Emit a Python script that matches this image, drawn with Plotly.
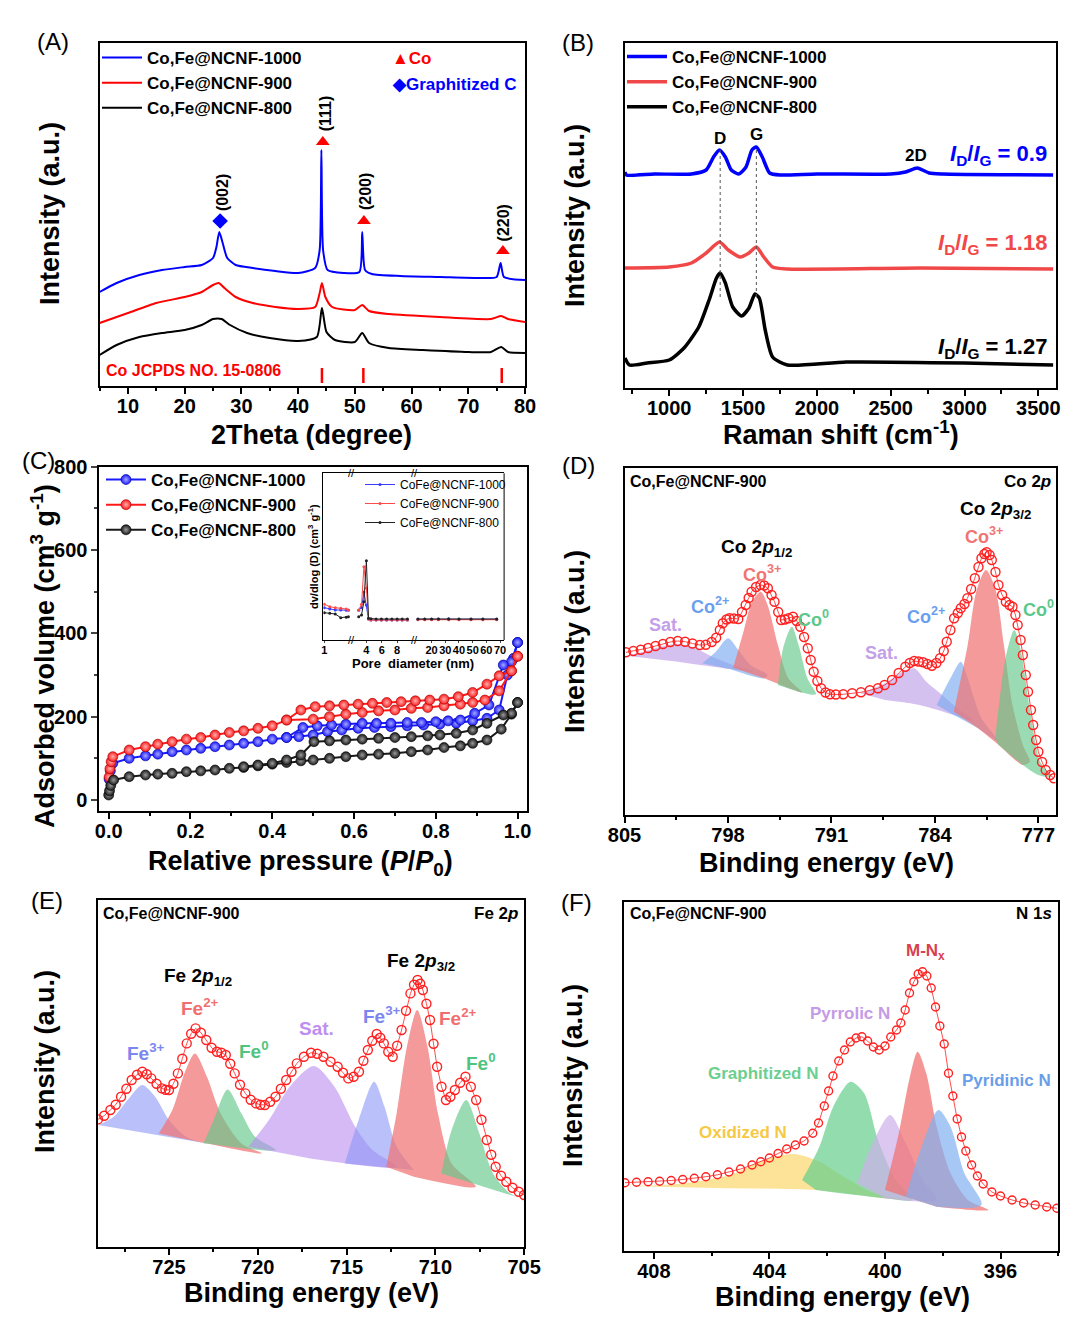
import plotly.graph_objects as go

W, H = 1080, 1321
FONT = "Liberation Sans"

# ---------------- (A) XRD ----------------
xrd_tt_1000 = [5, 8, 12, 16, 20, 23, 25, 25.6, 26.1, 26.7, 27.5, 29, 32, 36, 40, 43, 43.8, 44.1, 44.4, 45.2,
               48, 50.8, 51.3, 51.8, 53, 58, 65, 72, 75, 75.7, 76.3, 80]
xrd_i_1000 = [98, 107, 115, 120, 123, 125, 132, 143, 158, 147, 132, 125, 122, 119, 117, 122, 140, 240, 140, 120,
              117, 118, 158, 120, 116, 114, 113, 112, 113, 127, 113, 110]
xrd_tt_900 = [5, 10, 15, 20, 23, 25, 26, 27, 29, 32, 36, 40, 43, 43.8, 44.2, 44.8, 46, 50, 51.3, 52.5,
              56, 65, 74, 75.8, 77, 80]
xrd_i_900 = [67, 77, 87, 93, 98, 105, 107, 102, 93, 87, 83, 81, 83, 97, 107, 93, 83, 80, 85, 79,
             76, 73, 71, 74, 71, 68]
xrd_tt_800 = [5, 8, 12, 16, 20, 23, 25, 26.5, 28, 31, 35, 40, 43.3, 44.2, 45, 46.5, 50, 51.3, 52.5, 56,
              62, 70, 74, 75.8, 77, 80]
xrd_i_800 = [35, 45, 53, 57, 60, 65, 71, 71, 65, 57, 52, 49, 53, 82, 58, 50, 48, 57, 47, 42,
             40, 38, 38, 43, 38, 37]
co_ref_tt = [44.2, 51.5, 75.9]
co_peak_tt = [44.35, 51.6, 76.1]
co_peak_i = [248, 169, 139]
gc_peak_tt = [26.25]
gc_peak_i = [169]
hkl_labels = ["(002)", "(111)", "(200)", "(220)"]
hkl_tt = [26.6, 44.8, 51.8, 76.2]
hkl_i = [197, 277, 198, 167]

# ---------------- (B) Raman ----------------
raman_x_1000 = [700, 710, 900, 1150, 1250, 1300, 1340, 1380, 1420, 1470, 1520, 1560, 1590, 1630, 1680,
                1750, 2000, 2500, 2600, 2680, 2760, 2850, 3600]
raman_i_1000 = [218, 215, 216, 216, 220, 233, 240, 233, 220, 216, 223, 240, 243, 233, 217,
                215, 216, 216, 218, 222, 217, 216, 215]
raman_x_900 = [700, 1000, 1150, 1250, 1340, 1400, 1480, 1540, 1590, 1640, 1700, 1800, 2700, 3600]
raman_i_900 = [122, 123, 127, 137, 148, 140, 133, 137, 143, 133, 123, 121, 122, 121]
raman_x_800 = [700, 730, 850, 1000, 1100, 1200, 1270, 1320, 1345, 1380, 1430, 1490, 1540, 1580, 1610,
               1650, 1700, 1800, 2200, 3000, 3600]
raman_i_800 = [32, 25, 27, 30, 42, 63, 90, 112, 117, 107, 83, 74, 82, 96, 92,
               60, 33, 25, 28, 27, 25]
raman_band_pos = [1345, 1590]
raman_band_names = ["D", "G"]
raman_band_label_i = [252, 256]
ratio_values = ["0.9", "1.18", "1.27"]
ratio_i = [235, 146, 42]

# ---------------- (C) N2 isotherms ----------------
ads_p_1000 = [0.001, 0.004, 0.01, 0.05, 0.09, 0.12, 0.155, 0.19, 0.225, 0.26, 0.295, 0.33, 0.365, 0.40, 0.435,
              0.465, 0.50, 0.535, 0.57, 0.61, 0.65, 0.69, 0.73, 0.77, 0.81, 0.85, 0.89, 0.925, 0.955, 0.975,
              0.99, 1.0]
ads_v_1000 = [50, 70, 88, 100, 106, 110, 116, 120, 124, 128, 132, 136, 140, 146, 150,
              152, 156, 164, 168, 172, 174, 176, 178, 180, 182, 184, 190, 196, 216, 300,
              340, 378]
des_p_1000 = [1.0, 0.985, 0.965, 0.93, 0.895, 0.86, 0.83, 0.80, 0.765, 0.73, 0.69, 0.655, 0.62, 0.58, 0.545,
              0.51, 0.475, 0.435]
des_v_1000 = [378, 332, 324, 228, 208, 192, 190, 188, 186, 186, 184, 184, 184, 182, 180, 178, 174, 150]
ads_p_900 = [0.001, 0.003, 0.006, 0.01, 0.05, 0.09, 0.12, 0.155, 0.19, 0.225, 0.26, 0.295, 0.33, 0.365, 0.40,
             0.435, 0.50, 0.54, 0.58, 0.62, 0.66, 0.70, 0.74, 0.78, 0.82, 0.86, 0.89, 0.92, 0.955, 0.985, 1.0]
ads_v_900 = [55, 75, 92, 104, 120, 128, 134, 140, 146, 150, 156, 162, 166, 172, 178,
             192, 194, 200, 206, 210, 214, 216, 220, 222, 226, 230, 234, 240, 262, 310, 345]
des_p_900 = [1.0, 0.985, 0.955, 0.925, 0.89, 0.855, 0.82, 0.785, 0.75, 0.715, 0.68, 0.645, 0.61, 0.575, 0.54,
             0.505, 0.47, 0.435]
des_v_900 = [345, 310, 298, 278, 258, 248, 242, 240, 238, 236, 234, 232, 230, 228, 226, 224, 216, 192]
ads_p_800 = [0.0, 0.002, 0.005, 0.012, 0.05, 0.09, 0.12, 0.155, 0.19, 0.225, 0.26, 0.295, 0.33, 0.365, 0.40,
             0.435, 0.47, 0.50, 0.54, 0.58, 0.62, 0.66, 0.70, 0.74, 0.78, 0.82, 0.86, 0.89, 0.925, 0.96,
             0.985, 1.0]
ads_v_800 = [12, 22, 35, 48, 56, 60, 62, 64, 68, 70, 72, 76, 78, 82, 86,
             90, 94, 96, 100, 104, 108, 110, 112, 116, 120, 126, 130, 136, 144, 170,
             206, 234]
des_p_800 = [1.0, 0.985, 0.965, 0.925, 0.89, 0.85, 0.81, 0.78, 0.74, 0.70, 0.66, 0.62, 0.58, 0.54, 0.502,
             0.47, 0.435, 0.40, 0.365, 0.33]
des_v_800 = [234, 208, 204, 184, 168, 160, 156, 154, 152, 150, 148, 146, 144, 142, 140, 108, 96, 88, 84, 80]

# inset: pore size distribution (broken axis)
psd_d = [1.0, 1.3, 1.6, 1.9, 2.2,
         2.32, 3.0, 3.37, 3.68, 4.0, 4.28, 4.59, 5.27, 5.95, 6.63, 7.32, 8.0, 8.66, 9.34,
         10, 15, 20, 25, 32.5, 40, 48.8, 57.5, 67.6]
psd_v_1000 = [32.3, 31, 30, 30, 29.7,
              29.7, 29.7, 32.3, 48, 35, 21, 20, 20, 20, 20, 20, 20, 20, 20,
              20.7, 20.7, 20.7, 21, 21.3, 20.7, 20.7, 20.7, 20.7]
psd_v_900 = [35.7, 33.3, 32.3, 31.7, 31,
             30, 30, 35.7, 73.3, 51.7, 21, 20, 20, 20, 20, 20, 20, 20, 20,
             20.3, 20.3, 20.3, 20.3, 20.3, 20.3, 20.3, 20.3, 20.3]
psd_v_800 = [27.3, 26.7, 26, 22.3, 22.7,
             23.3, 23.3, 25, 38.3, 79.3, 21.7, 21.3, 21, 21, 21, 21, 21, 21, 21,
             21, 21, 21, 21, 21, 21, 21, 21, 21]

# ---------------- (D) Co 2p ----------------
co_env_be = [804.9, 804.4, 803.9, 803.4, 802.9, 802.4, 801.9, 801.4, 800.9, 800.4,
             799.9, 799.5, 799.1, 798.8, 798.55, 798.35, 798.1, 797.9, 797.6, 797.3,
             797.05, 796.8, 796.6, 796.4, 796.1, 795.8, 795.55, 795.3, 795.05, 794.85,
             794.6, 794.4, 794.15, 793.9, 793.6, 793.35, 793.1, 792.85, 792.6, 792.4,
             792.2, 791.95, 791.7, 791.4, 791.1, 790.7, 790.2, 789.6, 789.0, 788.4,
             787.85, 787.4, 786.9, 786.45, 786.0, 785.7, 785.4, 785.1, 784.8, 784.5,
             784.2, 783.9, 783.65, 783.4, 783.2, 782.95, 782.7, 782.45, 782.25, 782.0,
             781.8, 781.55, 781.3, 781.05, 780.85, 780.65, 780.5, 780.3, 780.15, 779.9,
             779.7, 779.45, 779.2, 778.95, 778.75, 778.55, 778.4, 778.2, 778.05, 777.85,
             777.7, 777.5, 777.35, 777.15, 777.0, 776.75, 776.5, 776.2, 775.95]
co_env_int = [162.7, 164, 165.3, 167, 169, 171, 173, 174, 173.3, 171.5,
              170, 170.3, 173, 177.3, 185, 191.7, 195.5, 196.7, 196.5, 196,
              203, 210, 217, 223.3, 228, 230, 229.5, 226.7, 220, 213.3,
              203, 195, 195.5, 196.7, 198.3, 194, 188.3, 178, 166.7, 155,
              143.3, 134, 126.7, 122.5, 120.7, 120.5, 120.7, 121.7, 122.7, 124.7,
              126.7, 130, 135, 142, 148.3, 152, 154, 153.5, 152.7, 151,
              149.3, 152, 156.7, 164, 173.3, 185, 196.7, 202, 206.7, 211,
              216.7, 226, 236.7, 248, 256.7, 261, 262.7, 260, 255, 243,
              230, 220, 213.3, 210, 208.3, 200, 190, 175, 160, 140,
              123.3, 105, 90, 75, 63.3, 53, 45, 40, 36.7]
co_bg_be = [805.0, 801.38, 797.88, 795.55, 793.22, 790.88, 787.38, 785.05, 782.72, 781.08, 779.68, 778.05, 777.0, 775.95]
co_bg_int = [159.3, 153.3, 146, 136.7, 123.3, 118.3, 115, 110, 100, 86.7, 70, 50, 40, 36.7]
co_sat1_be = [804.88, 803.72, 802.55, 801.38, 800.22, 799.05, 797.65, 796.25]
co_sat1_int = [159.3, 163.3, 168.3, 171, 166.7, 158.3, 150, 143.3]
co2_a_be = [799.75, 798.82, 798.0, 797.3, 796.48, 795.32]
co2_a_int = [151.7, 163.3, 176.7, 165, 150, 140]
co3_a_be = [797.65, 796.95, 796.37, 795.78, 795.32, 794.62, 793.92, 792.98]
co3_a_int = [147.3, 183.3, 213.3, 223.3, 210, 170, 136.7, 122.7]
co0_a_be = [794.62, 794.27, 793.68, 793.22, 792.63, 792.05]
co0_a_int = [130, 166.7, 188.3, 170, 136.7, 120.7]
co_sat2_be = [789.02, 787.38, 786.22, 785.4, 784.58, 783.65, 782.48, 781.32]
co_sat2_int = [121.7, 131.7, 143.3, 146.7, 133.3, 121.7, 106.7, 93.3]
co2_b_be = [783.88, 782.95, 782.25, 781.78, 780.85, 779.68]
co2_b_int = [110, 136.7, 153.3, 136.7, 96.7, 73.3]
co3_b_be = [782.72, 781.78, 781.2, 780.55, 779.92, 779.33, 778.75, 778.05, 777.58]
co3_b_int = [103.3, 170, 223.3, 245, 226.7, 170, 110, 70, 53.3]
co0_b_be = [779.92, 779.22, 778.63, 778.17, 777.58, 776.88, 776.18]
co0_b_int = [76.7, 156.7, 185, 163.3, 106.7, 53.3, 38.3]

# ---------------- (E) Fe 2p ----------------
fe_env_be = [729.0, 728.65, 728.3, 728.0, 727.7, 727.4, 727.1, 726.8, 726.5, 726.25,
             726.0, 725.7, 725.4, 725.2, 725.0, 724.75, 724.5, 724.25, 724.0, 723.75,
             723.5, 723.2, 722.9, 722.6, 722.3, 722.05, 721.8, 721.55, 721.3, 721.0,
             720.7, 720.4, 720.1, 719.85, 719.6, 719.3, 719.0, 718.7, 718.4, 718.1,
             717.8, 717.4, 717.0, 716.65, 716.3, 715.9, 715.5, 715.2, 714.9, 714.6,
             714.3, 714.05, 713.8, 713.55, 713.3, 713.1, 712.9, 712.65, 712.4, 712.15,
             711.9, 711.65, 711.4, 711.2, 711.0, 710.85, 710.7, 710.5, 710.3, 710.1,
             709.9, 709.65, 709.4, 709.15, 708.9, 708.6, 708.3, 708.0, 707.7, 707.4,
             707.1, 706.85, 706.6, 706.3, 706.0, 705.65, 705.3, 705.0]
fe_env_int = [127.3, 131, 136.7, 142, 150, 158, 166.7, 172, 175, 172.5,
              168.3, 163, 158.3, 157, 156.7, 163, 173.3, 188, 203.3, 213,
              218.3, 214, 206.7, 199, 195, 194, 191.7, 183, 173.3, 162,
              153.3, 147, 143.3, 142, 141.7, 145, 150, 158, 166.7, 175,
              183.3, 190, 194, 193, 190, 185, 180, 174, 168.3, 170,
              175, 186, 196.7, 206, 212.7, 209, 203.3, 195, 190, 201,
              216.7, 236, 253.3, 262, 266.7, 263, 256.7, 243, 226.7, 203,
              180, 160, 146.7, 150, 156.7, 164, 170, 160, 146.7, 127,
              106.7, 92, 80, 71, 65, 59, 55, 51.7]
fe_bg_be = [729.02, 722.86, 717.04, 711.21, 705.0]
fe_bg_int = [118.3, 103.3, 88.3, 70, 46.7]
fe3_a_be = [728.98, 728.11, 727.33, 726.51, 725.78, 725.0, 724.03, 722.86]
fe3_a_int = [121.7, 130, 146.7, 161.7, 150, 126.7, 110, 103.3]
fe2_a_be = [725.58, 724.81, 724.13, 723.54, 722.86, 722.09, 720.92, 719.76]
fe2_a_int = [113.3, 136.7, 173.3, 193.3, 170, 133.3, 103.3, 93.3]
fe0_a_be = [723.06, 722.48, 721.7, 720.92, 720.15, 718.98]
fe0_a_int = [103.3, 126.7, 157.3, 133.3, 110, 96.7]
fe_sat_be = [720.53, 719.37, 718.2, 716.84, 715.68, 714.51, 713.54, 712.18]
fe_sat_int = [100, 126.7, 160, 180.7, 160, 120, 96.7, 80]
fe3_b_be = [715.1, 714.32, 713.45, 712.86, 712.18, 711.21]
fe3_b_int = [83.3, 126.7, 165, 140, 100, 76.7]
fe2_b_be = [712.77, 712.18, 711.6, 711.02, 710.44, 709.85, 709.08, 707.72]
fe2_b_int = [80, 133.3, 200, 236.7, 200, 133.3, 83.3, 60]
fe0_b_be = [709.66, 709.08, 708.26, 707.52, 706.75, 705.78, 705.0]
fe0_b_int = [73.3, 116.7, 146.7, 113.3, 73.3, 53.3, 47.4]

# ---------------- (F) N 1s ----------------
n_env_be = [409.0, 408.6, 408.2, 407.8, 407.4, 407.0, 406.6, 406.2, 405.8, 405.4,
            405.0, 404.6, 404.3, 404.0, 403.7, 403.4, 403.1, 402.8, 402.5, 402.3,
            402.1, 401.95, 401.8, 401.6, 401.4, 401.2, 401.0, 400.8, 400.6, 400.4,
            400.2, 400.0, 399.8, 399.6, 399.45, 399.3, 399.15, 399.0, 398.85, 398.7,
            398.55, 398.4, 398.25, 398.1, 397.95, 397.8, 397.65, 397.5, 397.35, 397.2,
            397.0, 396.8, 396.6, 396.3, 396.0, 395.6, 395.2, 394.8, 394.4, 394.05]
n_env_int = [68.3, 68.7, 69.2, 69.8, 70.5, 71.5, 72.7, 74.3, 76.2, 79,
             82, 86, 89.3, 93, 97.5, 102, 106, 110, 117.7, 128,
             145, 160, 175, 190, 201, 209, 213, 214.3, 210, 204,
             201, 205, 214, 221, 228, 241, 258, 269.3, 277, 279.3,
             275, 263, 244, 225, 207, 177.7, 155, 132, 114, 100,
             86, 75, 67, 59, 55, 51, 48, 46, 44, 42.7]
n_bg_be = [409.01, 405.49, 402.39, 400.0, 398.21, 396.42, 394.03]
n_bg_int = [64.3, 62.7, 61, 52.7, 44.3, 39.3, 39.3]
n_oxi_be = [409.01, 407.16, 405.37, 404.18, 403.16, 402.27, 401.43, 400.48, 399.4]
n_oxi_int = [65, 67, 76, 91, 97, 89.3, 74.3, 59.3, 51]
n_gra_be = [402.87, 402.27, 401.79, 401.19, 400.72, 400.24, 399.64, 399.04]
n_gra_int = [71, 104.3, 144.3, 169.3, 157.7, 111, 71, 51]
n_pyr_be = [400.96, 400.48, 399.82, 399.28, 398.69, 398.21]
n_pyr_int = [67.7, 104.3, 136, 107.7, 71, 51]
n_mnx_be = [400.0, 399.52, 399.16, 398.87, 398.57, 398.21, 397.73, 397.13, 396.42]
n_mnx_int = [61, 117.7, 171, 199.3, 177.7, 124.3, 77.7, 51, 41]
n_pyd_be = [399.28, 398.81, 398.15, 397.73, 397.25, 396.66]
n_pyd_int = [54.3, 97.7, 141, 124.3, 77.7, 46]

sample_names = ["Co,Fe@NCNF-1000", "Co,Fe@NCNF-900", "Co,Fe@NCNF-800"]
inset_names = ["CoFe@NCNF-1000", "CoFe@NCNF-900", "CoFe@NCNF-800"]


def fx(p):
    return p / W


def fy(p):
    return 1 - p / H


fig = go.Figure()


def line_trace(x, y, color, width, xa, ya, name=None, legend="legend", show=False, shape="spline"):
    fig.add_trace(go.Scatter(x=x, y=y, mode="lines", name=name, showlegend=show, legend=legend,
                             line=dict(color=color, width=width, shape=shape, smoothing=0.6),
                             xaxis=xa, yaxis=ya, hoverinfo="skip"))


# (A)
a_cols = ["#0000ff", "#ff0000", "#000000"]
for x, y, nm, c in zip([xrd_tt_1000, xrd_tt_900, xrd_tt_800], [xrd_i_1000, xrd_i_900, xrd_i_800],
                       sample_names, a_cols):
    line_trace(x, y, c, 2, "x", "y", nm, "legend", True)
bx, by = [], []
for t in co_ref_tt:
    bx += [t, t, None]
    by += [7, 22, None]
line_trace(bx, by, "#ff0000", 2.5, "x", "y", shape="linear")
fig.add_trace(go.Scatter(x=co_peak_tt, y=co_peak_i, mode="markers", showlegend=False, xaxis="x", yaxis="y",
                         marker=dict(symbol="triangle-up", size=12, color="#ff0000")))
fig.add_trace(go.Scatter(x=gc_peak_tt, y=gc_peak_i, mode="markers", showlegend=False, xaxis="x", yaxis="y",
                         marker=dict(symbol="diamond", size=12, color="#0000ff")))

# (B)
b_cols = ["#0000ff", "#f04848", "#000000"]
for x, y, nm, c in zip([raman_x_1000, raman_x_900, raman_x_800], [raman_i_1000, raman_i_900, raman_i_800],
                       sample_names, b_cols):
    line_trace(x, y, c, 3.5, "x2", "y2", nm, "legend2", True)
dx, dy = [], []
for p in raman_band_pos:
    dx += [p, p, None]
    dy += [93, 240, None]
fig.add_trace(go.Scatter(x=dx, y=dy, mode="lines", showlegend=False, xaxis="x2", yaxis="y2",
                         line=dict(color="#555555", width=1, dash="dot")))

# (C)
c_cols = ["#1a1aff", "#ff1a1a", "#1a1a1a"]
c_glow = ["#a8a8ff", "#ffb0b0", "#9a9a9a"]
c_edge = ["#0000a0", "#a00000", "#000000"]
c_sets = [(ads_p_1000, ads_v_1000, des_p_1000, des_v_1000),
          (ads_p_900, ads_v_900, des_p_900, des_v_900),
          (ads_p_800, ads_v_800, des_p_800, des_v_800)]
for (ap, av, dp, dv), nm, c, g, e in zip(c_sets, sample_names, c_cols, c_glow, c_edge):
    mk = dict(symbol="circle", size=10, color=c, gradient=dict(type="radial", color=g),
              line=dict(color=e, width=0.6))
    for k, (px_, py_) in enumerate([(ap, av), (dp, dv)]):
        fig.add_trace(go.Scatter(x=px_, y=py_, mode="lines+markers", name=nm, legend="legend3",
                                 legendgroup=nm, showlegend=(k == 0), xaxis="x3", yaxis="y3",
                                 line=dict(color=c, width=2), marker=mk))

# inset, three axis segments
seg_axes = ["x4", "x5", "x6"]
i_cols = ["#3b3bff", "#ff4a4a", "#222222"]
for v, nm, c in zip([psd_v_1000, psd_v_900, psd_v_800], inset_names, i_cols):
    segs = [([], []), ([], []), ([], [])]
    for d, val in zip(psd_d, v):
        k = 0 if d < 2.6 else (1 if d < 10 else 2)
        segs[k][0].append(d)
        segs[k][1].append(val)
    for k, (sx, sy) in enumerate(segs):
        fig.add_trace(go.Scatter(x=sx, y=sy, mode="lines+markers", name=nm, legend="legend4",
                                 showlegend=(k == 1), xaxis=seg_axes[k], yaxis="y4",
                                 line=dict(color=c, width=1), marker=dict(size=3, color=c)))


# XPS
def band(cx, cy, bgx, bgy, fill, xa, ya):
    lo, hi = min(cx), max(cx)
    back = [(a, b) for a, b in zip(bgx, bgy) if lo < a < hi][::-1]
    xs = list(cx) + [p[0] for p in back]
    ys = list(cy) + [p[1] for p in back]
    fig.add_trace(go.Scatter(x=xs, y=ys, mode="lines", fill="toself", fillcolor=fill, showlegend=False,
                             line=dict(width=0, shape="spline", smoothing=0.8), xaxis=xa, yaxis=ya,
                             hoverinfo="skip"))


def envelope(x, y, xa, ya, size):
    fig.add_trace(go.Scatter(x=x, y=y, mode="lines+markers", showlegend=False, xaxis=xa, yaxis=ya,
                             line=dict(color="#ff2020", width=0.8),
                             marker=dict(symbol="circle-open", size=size, color="#ff2020",
                                         line=dict(width=1.4)), cliponaxis=True))


PURPLE = "rgba(190,160,232,0.65)"
LBLUE = "rgba(125,170,240,0.65)"
SALMON = "rgba(240,115,115,0.72)"
GREEN = "rgba(100,200,140,0.65)"
for cx, cy, col in [(co_sat1_be, co_sat1_int, PURPLE), (co2_a_be, co2_a_int, LBLUE),
                    (co3_a_be, co3_a_int, SALMON), (co0_a_be, co0_a_int, GREEN),
                    (co_sat2_be, co_sat2_int, PURPLE), (co2_b_be, co2_b_int, LBLUE),
                    (co3_b_be, co3_b_int, SALMON), (co0_b_be, co0_b_int, GREEN)]:
    band(cx, cy, co_bg_be, co_bg_int, col, "x7", "y7")
envelope(co_env_be, co_env_int, "x7", "y7", 9)

FE3 = "rgba(140,150,245,0.6)"
FESAT = "rgba(185,140,240,0.6)"
for cx, cy, col in [(fe3_a_be, fe3_a_int, FE3), (fe2_a_be, fe2_a_int, SALMON),
                    (fe0_a_be, fe0_a_int, GREEN), (fe_sat_be, fe_sat_int, FESAT),
                    (fe3_b_be, fe3_b_int, FE3), (fe2_b_be, fe2_b_int, SALMON),
                    (fe0_b_be, fe0_b_int, GREEN)]:
    band(cx, cy, fe_bg_be, fe_bg_int, col, "x8", "y8")
envelope(fe_env_be, fe_env_int, "x8", "y8", 9)

for cx, cy, col in [(n_oxi_be, n_oxi_int, "rgba(250,212,95,0.65)"),
                    (n_gra_be, n_gra_int, "rgba(100,205,140,0.7)"),
                    (n_pyr_be, n_pyr_int, "rgba(205,175,235,0.7)"),
                    (n_mnx_be, n_mnx_int, "rgba(240,115,115,0.75)"),
                    (n_pyd_be, n_pyd_int, "rgba(130,175,240,0.7)")]:
    band(cx, cy, n_bg_be, n_bg_int, col, "x9", "y9")
envelope(n_env_be, n_env_int, "x9", "y9", 8)

# ---------------- axes ----------------
LINE = dict(showline=True, linewidth=1.8, linecolor="black", mirror=True, showgrid=False, zeroline=False,
            automargin=False)
TICKF = dict(family=FONT, size=20, color="black", weight="bold")


def x_axis(l, r, anchor, rng, dtick, mdtick, tick0=0, fmt=None):
    ax = dict(domain=[fx(l), fx(r)], anchor=anchor, range=rng, tickmode="linear", tick0=tick0, dtick=dtick,
              ticks="outside", ticklen=6, tickwidth=1.8, tickcolor="black", tickfont=TICKF, tickangle=0,
              ticklabelstandoff=-5,
              minor=dict(tickmode="linear", tick0=tick0, dtick=mdtick, ticks="outside", ticklen=3.5,
                         tickwidth=1.5, tickcolor="black"), **LINE)
    if fmt:
        ax["tickformat"] = fmt
    return ax


def y_blank(t, b, anchor, rng):
    return dict(domain=[fy(b), fy(t)], anchor=anchor, range=rng, showticklabels=False, ticks="", **LINE)


INSET_LINE = dict(showline=True, linewidth=1, linecolor="black", showgrid=False, zeroline=False,
                  automargin=False)
INSET_TICK = dict(family=FONT, size=11, color="black", weight="bold")


def inset_x(l, r, rng, vals):
    return dict(domain=[fx(l), fx(r)], anchor="y4", range=rng, tickmode="array", tickvals=vals,
                ticks="outside", ticklen=2, tickwidth=1, tickfont=INSET_TICK, tickangle=0, mirror=True,
                ticklabelstandoff=-2, **INSET_LINE)


def leg(x, y, size, bold=True, width=40):
    return dict(x=fx(x), y=fy(y), xanchor="left", yanchor="top", bgcolor="rgba(0,0,0,0)",
                font=dict(family=FONT, size=size, color="black", weight="bold" if bold else "normal"),
                itemwidth=width, tracegroupgap=0, traceorder="normal")


fig.update_layout(
    template="none",
    width=W, height=H, margin=dict(l=0, r=0, t=0, b=0, pad=0, autoexpand=False),
    paper_bgcolor="white", plot_bgcolor="white",
    xaxis=x_axis(99.6, 525, "y", [5, 80], 10, 5),
    yaxis=y_blank(42.7, 386, "x", [4, 347.3]),
    xaxis2=x_axis(624.5, 1055.5, "y2", [697, 3616], 500, 250),
    yaxis2=y_blank(42.7, 388.3, "x2", [1.7, 347.3]),
    xaxis3=x_axis(99.3, 526.6, "y3", [-0.023, 1.022], 0.2, 0.1, fmt=".1f"),
    yaxis3=dict(domain=[fy(811), fy(466.7)], anchor="x3", range=[-26.4, 800], tickmode="linear", tick0=0,
                dtick=200, ticks="outside", ticklen=6, tickwidth=1.8, tickfont=TICKF,
                minor=dict(tickmode="linear", tick0=0, dtick=100, ticks="outside", ticklen=3.5, tickwidth=1.5),
                **LINE),
    xaxis4=inset_x(323.4, 351.7, [0.95, 2.5], [1]),
    xaxis5=inset_x(351.7, 414.5, [2.09, 10.26], [4, 6, 8]),
    xaxis6=inset_x(414.5, 504.1, [7.5, 73], [20, 30, 40, 50, 60, 70]),
    yaxis4=dict(domain=[fy(640), fy(473.3)], anchor="x4", range=[0, 166.7], showticklabels=False, ticks="",
                **INSET_LINE),
    xaxis7=x_axis(624.5, 1055.5, "y7", [805, 775.84], 7, 3.5, tick0=777),
    yaxis7=y_blank(467.7, 815, "x7", [0, 347.3]),
    xaxis8=x_axis(97.6, 524.1, "y8", [729.02, 705], 5, 2.5, tick0=705),
    yaxis8=y_blank(900, 1246.7, "x8", [0, 346.7]),
    xaxis9=x_axis(623.8, 1058.3, "y9", [409.04, 394.0], 4, 2, tick0=396),
    yaxis9=y_blank(901.7, 1251, "x9", [0, 349.3]),
    legend=leg(97, 40, 17),
    legend2=leg(622, 39, 17),
    legend3=leg(101, 462, 17),
    legend4=leg(360, 470, 12, bold=False, width=30),
)

fig.add_shape(type="line", xref="x6 domain", yref="y4 domain", x0=1, x1=1, y0=0, y1=1,
              line=dict(color="black", width=1))

# ---------------- text ----------------
ann = []


def note(text, x, y, xref="paper", yref="paper", size=17, color="black", bold=True, angle=0,
         xanchor="center", yanchor="middle"):
    ann.append(dict(text=text, x=x, y=y, xref=xref, yref=yref, showarrow=False, textangle=angle,
                    xanchor=xanchor, yanchor=yanchor,
                    font=dict(family=FONT, size=size, color=color, weight="bold" if bold else "normal")))


# panel letters
for lab, x, y in [("(A)", 53, 41), ("(B)", 578, 42), ("(C)", 38, 460),
                  ("(D)", 578, 465), ("(E)", 47, 900), ("(F)", 576, 902)]:
    note(lab, fx(x), fy(y), size=24, bold=False)

# axis titles
TT = 27
note("2Theta (degree)", fx(311), fy(435), size=TT)
note("Intensity (a.u.)", fx(50), fy(214), size=TT, angle=-90)
note("Raman shift (cm<sup>-1</sup>)", fx(841), fy(433), size=TT)
note("Intensity (a.u.)", fx(575), fy(216), size=TT, angle=-90)
note("Relative pressure (<i>P</i>/<i>P</i><sub>0</sub>)", fx(300), fy(863), size=TT)
note("Adsorbed volume (cm<sup>3</sup> g<sup>-1</sup>)", fx(43), fy(656), size=TT, angle=-90)
note("Binding energy (eV)", fx(826), fy(863), size=TT)
note("Intensity (a.u.)", fx(575), fy(642), size=TT, angle=-90)
note("Binding energy (eV)", fx(312), fy(1293), size=TT)
note("Intensity (a.u.)", fx(45), fy(1062), size=TT, angle=-90)
note("Binding energy (eV)", fx(842), fy(1297), size=TT)
note("Intensity (a.u.)", fx(573), fy(1076), size=TT, angle=-90)

# (A) texts
note("\u25b2Co", fx(390), fy(59), color="#ff0000", xanchor="left")
note("\u25c6Graphitized C", fx(390), fy(84), color="#0000ff", xanchor="left")
note("Co JCPDS NO. 15-0806", 5.7, 20, "x", "y", size=16, color="#ff0000", xanchor="left")
for t, x, y in zip(hkl_labels, hkl_tt, hkl_i):
    note(t, x, y, "x", "y", size=16, angle=-90)

# (B) texts
for t, x, y in zip(raman_band_names, raman_band_pos, raman_band_label_i):
    note(t, x, y, "x2", "y2", size=17)
note("2D", 2670, 235, "x2", "y2", size=17)
for v, y, c in zip(ratio_values, ratio_i, b_cols):
    note("<i>I</i><sub>D</sub>/<i>I</i><sub>G</sub> = " + v, 3570, y, "x2", "y2", size=22, color=c,
         xanchor="right")

# (C) inset texts
note("dv/dlog (D) (cm<sup>3</sup> g<sup>-1</sup>)", fx(313), fy(557), size=11, angle=-90)
note("Pore  diameter (nm)", fx(413), fy(663), size=13)
for bxp in [351.7, 414.5]:
    for byp in [473.3, 640]:
        note("//", fx(bxp), fy(byp), size=11, bold=False)

# (D) texts
CO3C, CO2C, CO0C, SATC = "#f07474", "#6a9ff0", "#5cc78a", "#c3a0e8"
note("Co,Fe@NCNF-900", fx(628), fy(481), size=16, xanchor="left")
note("Co 2<i>p</i>", fx(1053), fy(481), size=17, xanchor="right")
note("Co 2<i>p</i><sub>3/2</sub>", 779.9, 305, "x7", "y7", size=19)
note("Co 2<i>p</i><sub>1/2</sub>", 796.1, 267, "x7", "y7", size=19)
note("Co<sup>3+</sup>", 795.7, 242, "x7", "y7", size=18, color=CO3C)
note("Co<sup>3+</sup>", 780.7, 280, "x7", "y7", size=18, color=CO3C)
note("Co<sup>2+</sup>", 799.2, 210, "x7", "y7", size=18, color=CO2C)
note("Co<sup>2+</sup>", 784.6, 200, "x7", "y7", size=18, color=CO2C)
note("Co<sup>0</sup>", 792.2, 197, "x7", "y7", size=18, color=CO0C)
note("Co<sup>0</sup>", 777.0, 207, "x7", "y7", size=18, color=CO0C)
note("Sat.", 802.2, 190, "x7", "y7", size=18, color=SATC)
note("Sat.", 787.6, 162, "x7", "y7", size=18, color=SATC)

# (E) texts
FE3C, FE2C, FE0C, FESATC = "#7b86f0", "#f07070", "#4ec47e", "#c08ef0"
note("Co,Fe@NCNF-900", fx(101), fy(914), size=16, xanchor="left")
note("Fe 2<i>p</i>", fx(520), fy(914), size=17, xanchor="right")
note("Fe 2<i>p</i><sub>1/2</sub>", 723.35, 270, "x8", "y8", size=19)
note("Fe 2<i>p</i><sub>3/2</sub>", 710.8, 285, "x8", "y8", size=19)
note("Fe<sup>2+</sup>", 723.25, 240, "x8", "y8", size=19, color=FE2C)
note("Fe<sup>2+</sup>", 708.7, 230, "x8", "y8", size=19, color=FE2C)
note("Fe<sup>3+</sup>", 726.3, 195, "x8", "y8", size=19, color=FE3C)
note("Fe<sup>3+</sup>", 713.0, 232, "x8", "y8", size=19, color=FE3C)
note("Fe<sup>0</sup>", 720.2, 197, "x8", "y8", size=19, color=FE0C)
note("Fe<sup>0</sup>", 707.4, 185, "x8", "y8", size=19, color=FE0C)
note("Sat.", 716.7, 218, "x8", "y8", size=19, color=FESATC)

# (F) texts
note("Co,Fe@NCNF-900", fx(628), fy(914), size=16, xanchor="left")
note("N 1<i>s</i>", fx(1054), fy(914), size=17, xanchor="right")
note("M-N<sub>x</sub>", 398.6, 299, "x9", "y9", size=17, color="#d94050")
note("Pyrrolic N", 401.2, 238, "x9", "y9", size=17, color="#c49be6")
note("Graphitized N", 404.2, 178, "x9", "y9", size=17, color="#6ccf90")
note("Pyridinic N", 395.8, 171, "x9", "y9", size=17, color="#6a9ee8")
note("Oxidized N", 404.9, 119, "x9", "y9", size=17, color="#f6c945")

fig.update_layout(annotations=ann)

# the page body has a default 8px margin; drop it so the figure sits at the window corner
fig.write_html("out.html", config={"displayModeBar": False},
               post_script="document.body.style.margin='0px';")
